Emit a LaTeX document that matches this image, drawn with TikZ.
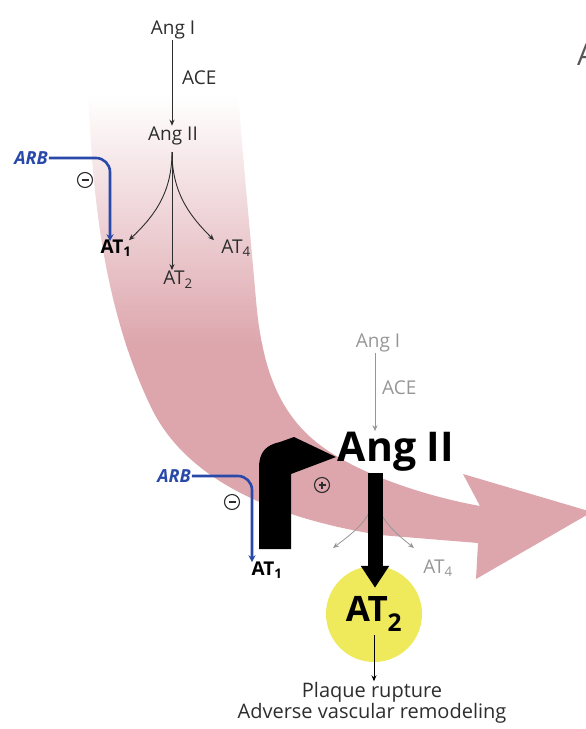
\documentclass[tikz,border=0pt]{standalone}
\usepackage{fontspec}
\setmainfont{Open Sans}
\usetikzlibrary{positioning,arrows.meta}

\definecolor{bandpink}{RGB}{221,166,173}
\definecolor{arbblue}{RGB}{40,72,170}
\definecolor{txtdark}{RGB}{45,45,45}
\definecolor{txtgrey}{RGB}{150,150,150}
\definecolor{at2yellow}{RGB}{238,234,92}

\tikzset{
  lbl/.style={font=\fontsize{19}{22}\selectfont, text=txtdark, inner sep=1pt},
  lblb/.style={lbl, font=\fontsize{19}{22}\selectfont\bfseries, text=black},
  faint/.style={lbl, text=txtgrey},
  arb/.style={font=\fontsize{18}{21}\selectfont\bfseries\itshape, text=arbblue, inner sep=1pt},
  thinarrow/.style={-{Stealth[length=6pt,width=5pt]}, line width=0.9pt, draw=txtdark},
  faintarrow/.style={-{Stealth[length=6pt,width=5pt]}, line width=0.8pt, draw=txtgrey},
  inhib/.style={-{Stealth[length=7pt,width=7pt]}, line width=2.6pt, draw=arbblue, rounded corners=14pt},
  sign/.style={circle, draw=txtdark, line width=1.1pt, minimum size=15pt, inner sep=0pt},
  minussign/.style={sign, path picture={
      \draw[line width=1.1pt, txtdark] ([xshift=4pt]path picture bounding box.west) -- ([xshift=-4pt]path picture bounding box.east);}},
  plussign/.style={sign, path picture={
      \draw[line width=1.1pt, txtdark] ([xshift=4pt]path picture bounding box.west) -- ([xshift=-4pt]path picture bounding box.east);
      \draw[line width=1.1pt, txtdark] ([yshift=-4pt]path picture bounding box.north) -- ([yshift=4pt]path picture bounding box.south);}},
}

\begin{document}
\begin{tikzpicture}[x=1pt, y=-1pt]
    \useasboundingbox (0,0) rectangle (586,729);

    % big curved arrow
    \begin{scope}
        \clip (88,90) .. controls (92,180) and (100,300) .. (150,405)
            .. controls (180,470) and (255,515) .. (380,535) -- (478,543) -- (476,579) -- (592,512) -- (463,474) -- (480,506)
            .. controls (430,497) and (370,478) .. (330,452)
            .. controls (280,420) and (262,370) .. (256,300)
            .. controls (250,230) and (242,150) .. (238,90) -- cycle;
        \shade[top color=white, bottom color=bandpink] (0,95) rectangle (600,345);
        \fill[bandpink] (0,344) rectangle (600,600);
    \end{scope}

    % upper cascade
    \node[lbl] (topAngI) at (173,30) {Ang I};
    \node[lbl, anchor=west] (topAce) at (181,78) {ACE};
    \node[lbl] (topAngII) at (173,136) {Ang II};
    \node[arb] (topArb) at (31,158) {ARB};
    \node[lblb] (topAT1) at (116,248) {AT\textsubscript{1}};
    \node[lbl] (topAT2) at (178,280) {AT\textsubscript{2}};
    \node[lbl] (topAT4) at (236,248) {AT\textsubscript{4}};
    \coordinate (topFork) at (172,152);

    \draw[thinarrow] (topAngI.south -| topFork) -- (topAngII.north -| topFork);
    \draw[thinarrow] (topFork) .. controls (172,195) and (152,218) .. ([xshift=13pt,yshift=-2pt]topAT1.north);
    \draw[thinarrow] (topFork) -- (topAT2.north -| topFork);
    \draw[thinarrow] (topFork) .. controls (172,195) and (192,218) .. ([xshift=-22pt,yshift=-2pt]topAT4.north);
    \draw[inhib] (topArb.east) -| ([xshift=-6pt,yshift=-3pt]topAT1.north);
    \node[minussign] (topMinus) at (85,180) {};

    % lower cascade
    \node[faint] (botAngI) at (378,343) {Ang I};
    \node[faint, anchor=west] (botAce) at (381,388) {ACE};
    \node[font=\fontsize{41}{46}\selectfont\bfseries, inner sep=1pt] (botAngII) at (396,452) {Ang II};
    \node[arb] (botArb) at (174,476) {ARB};
    \node[lblb] (botAT1) at (267,570) {AT\textsubscript{1}};
    \node[faint] (botAT4) at (438,568) {AT\textsubscript{4}};
    \node[circle, fill=at2yellow, minimum size=96pt, inner sep=0pt,
          font=\fontsize{35}{38}\selectfont\bfseries] (botAT2) at (374,614) {AT\textsubscript{2}};
    \node[lbl, align=center, font=\fontsize{20}{21}\selectfont] (outcome) at (372,703)
        {Plaque rupture\\Adverse vascular remodeling};
    \coordinate (botFork) at (375,495);

    \draw[faintarrow] (botAngI.south -| botFork) -- (botAngII.north -| botFork);
    \draw[faintarrow] (botFork) .. controls (372,520) and (350,535) .. (333,548);
    \draw[faintarrow] (botFork) .. controls (378,520) and (398,535) .. (414,548);
    \draw[inhib] (botArb.east) -| ([xshift=-15pt,yshift=-2pt]botAT1.north);
    \node[minussign] (botMinus) at (232,502) {};

    % AT1 -> Ang II feedback
    \fill[black] (259,549) -- (259,468) .. controls (259,452) and (266,445) .. (280,442)
        -- (294,437) -- (336,457) -- (291,474) -- (291,549) -- cycle;
    \node[plussign] (botPlus) at (322,485) {};

    \draw[line width=15pt, -{Triangle[length=22pt,width=27pt]}, shorten >=-22pt]
        (botAngII.south -| botFork) -- (botAT2.north -| botFork);
    \draw[thinarrow, draw=black] ([yshift=-21pt]botAT2.center) -- (outcome.north -| botAT2.center);

    \node[font=\fontsize{30}{30}\selectfont, text=txtdark!80, anchor=west, inner sep=0pt] (panelA) at (577,55) {A};
\end{tikzpicture}
\end{document}
